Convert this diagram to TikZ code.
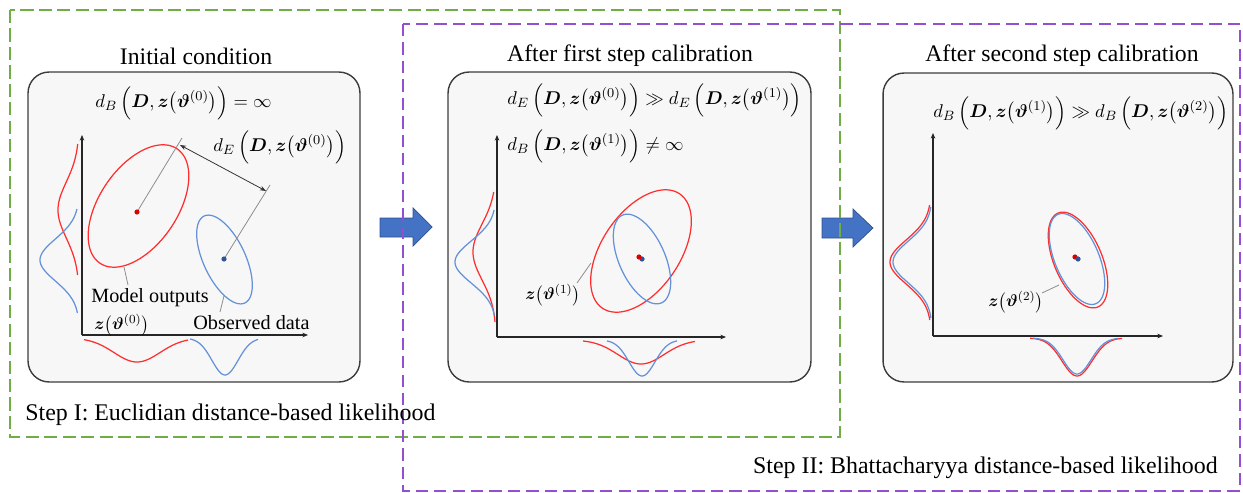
\documentclass[tikz,border=0pt]{standalone}
\usepackage{amsmath}
\usepackage{bm}
\usepackage{fontspec}
\setmainfont{Liberation Serif}
\usetikzlibrary{arrows.meta}
\definecolor{gr}{RGB}{112,173,71}
\definecolor{pu}{RGB}{146,80,208}
\definecolor{rd}{RGB}{255,45,45}
\definecolor{bl}{RGB}{100,145,215}
\definecolor{rdot}{RGB}{220,0,0}
\definecolor{bdot}{RGB}{47,85,151}
\definecolor{arrowblue}{RGB}{68,114,196}
\definecolor{arrowedge}{RGB}{47,82,143}
\definecolor{panelfill}{RGB}{247,247,247}
\definecolor{panelline}{RGB}{60,60,60}
\newcommand{\mydist}[2]{d_{#1}\,\Bigl(\bm{D},\bm{z}\bigl(\bm{\vartheta}^{(#2)}\bigr)\Bigr)}
\newcommand{\myz}[1]{\scalebox{0.88}{$\bm{z}\bigl(\bm{\vartheta}^{(#1)}\bigr)$}}
\newcommand{\myf}[1]{\scalebox{0.96}{$#1$}}
% ellipse: cx, cy, a, b, angle, style
\newcommand{\tiltell}[6]{\draw[#6] plot[domain=0:356,samples=90,smooth cycle]
  ({#1+#3*cos(\x)*cos(#5)+#4*sin(\x)*sin(#5)},{#2-#3*cos(\x)*sin(#5)+#4*sin(\x)*cos(#5)});}
% vertical gaussian: base x, centre y, amp, sigma, from, to, style
\newcommand{\vgauss}[7]{\draw[#7] plot[domain=#5:#6,samples=60,smooth]
  ({#1-#3*exp(-((\x-#2)/#4)*((\x-#2)/#4)/2)},\x);}
% horizontal gaussian: base y, centre x, amp, sigma, from, to, style
\newcommand{\hgauss}[7]{\draw[#7] plot[domain=#5:#6,samples=60,smooth]
  (\x,{#1+#3*exp(-((\x-#2)/#4)*((\x-#2)/#4)/2)});}
\begin{document}
\begin{tikzpicture}[x=0.02cm,y=-0.02cm,
  panel/.style={draw=panelline,line width=0.8pt,fill=panelfill,rounded corners=0.42cm,inner sep=0pt},
  title/.style={font=\fontsize{13.5}{15}\selectfont,inner sep=0pt},
  steplabel/.style={font=\fontsize{13.6}{15}\selectfont,inner sep=0pt},
  lab/.style={font=\fontsize{11.5}{13}\selectfont,inner sep=0pt},
  mth/.style={font=\fontsize{11}{12}\selectfont,inner sep=0pt,anchor=west},
  axis/.style={line width=0.6pt,draw=black!85,-{Stealth[length=3.2pt,width=2.6pt]}},
  ell/.style={line width=0.7pt},
  guide/.style={line width=0.45pt,draw=black!45},
  blockarrow/.style={fill=arrowblue,draw=arrowedge,line width=0.4pt},
  gbox/.style={draw=gr,line width=0.85pt,dash pattern=on 7.5pt off 3pt},
  pbox/.style={draw=pu,line width=0.85pt,dash pattern=on 7pt off 3.5pt}]
\useasboundingbox (0,0) rectangle (1243,493);
% panels
\node[panel,minimum width=6.64cm,minimum height=6.2cm] (p1) at (194,227) {};
\node[panel,minimum width=7.26cm,minimum height=6.2cm] (p2) at (629.5,227) {};
\node[panel,minimum width=7.0cm,minimum height=6.18cm] (p3) at (1058,227.5) {};
% titles
\node[title] (t1) at (196,56) {Initial condition};
\node[title] (t2) at (630,56) {After first step calibration};
\node[title] (t3) at (1062,56) {After second step calibration};
% block arrows
\draw[blockarrow] (380,218) -- (413,218) -- (413,208) -- (432,227) -- (413,246) -- (413,237) -- (380,237) -- cycle;
\draw[blockarrow] (822,218) -- (853,218) -- (853,209) -- (873,228) -- (853,247) -- (853,238) -- (822,238) -- cycle;

% ---------- panel 1 ----------
\coordinate (o1) at (82,335);
\coordinate (y1) at (82,135);
\coordinate (x1) at (308,335);
\draw[axis] (o1) -- (y1);
\draw[axis] (o1) -- (x1);
\vgauss{79}{210}{21}{28}{144}{275}{rd,ell}
\vgauss{79}{260}{39}{21}{209}{313}{bl,ell}
\hgauss{338}{137}{24}{23}{84}{188}{rd,ell}
\hgauss{338}{225}{37}{13}{190}{258}{bl,ell}
\tiltell{138.5}{206}{69}{39}{56}{rd,ell}
\tiltell{224.5}{259.5}{48}{21}{115}{bl,ell}
\coordinate (rc1) at (137,212);
\coordinate (rt1) at (182,138);
\coordinate (bc1) at (224,259);
\coordinate (bt1) at (270,185);
\coordinate (da) at (180,145);
\coordinate (db) at (266,191);
\draw[guide] (rc1) -- (rt1);
\draw[guide] (bc1) -- (bt1);
\draw[line width=0.45pt,draw=black!80,{Stealth[length=3.5pt,width=2.6pt]}-{Stealth[length=3.5pt,width=2.6pt]}] (da) -- (db);
\fill[rdot] (rc1) circle (2.6);
\fill[bdot] (bc1) circle (2.6);
\node[mth] (f1) at (95,103) {\myf{\mydist{B}{0} = \infty}};
\node[mth] (f2) at (213,147) {\myf{\mydist{E}{0}}};
\node[lab,anchor=west] (mo) at (91,298) {Model outputs};
\node[mth] (z0) at (94,325) {\myz{0}};
\node[lab,anchor=west] (od) at (193,323) {Observed data};
\coordinate (mo1) at (124,267);
\coordinate (mo2) at (128,285);
\coordinate (od1) at (224,296);
\coordinate (od2) at (220,312);
\draw[guide] (mo1) -- (mo2);
\draw[guide] (od1) -- (od2);

% ---------- panel 2 ----------
\coordinate (o2) at (497,337);
\coordinate (y2) at (497,135);
\coordinate (x2) at (726,337);
\draw[axis] (o2) -- (y2);
\draw[axis] (o2) -- (x2);
\vgauss{496}{252}{23}{28}{192}{322}{rd,ell}
\vgauss{496}{262}{41}{21}{210}{315}{bl,ell}
\hgauss{340}{641}{24}{23}{583}{695}{rd,ell}
\hgauss{340}{642}{36}{13}{607}{677}{bl,ell}
\tiltell{641}{251}{69}{39}{56}{rd,ell}
\tiltell{642}{259}{48}{23}{114}{bl,ell}
\coordinate (bc2) at (642,259);
\coordinate (rc2) at (639,257);
\fill[bdot] (bc2) circle (2.6);
\fill[rdot] (rc2) circle (2.6);
\node[mth] (f3) at (507,100) {\myf{\mydist{E}{0} \gg \mydist{E}{1}}};
\node[mth] (f4) at (507,146) {\myf{\mydist{B}{1} \neq \infty}};
\node[mth] (z1) at (525,295) {\myz{1}};
\coordinate (z1a) at (577,283);
\coordinate (z1b) at (591,263);
\draw[guide] (z1a) -- (z1b);

% ---------- panel 3 ----------
\coordinate (o3) at (933,336);
\coordinate (y3) at (933,133);
\coordinate (x3) at (1163,336);
\draw[axis] (o3) -- (y3);
\draw[axis] (o3) -- (x3);
\vgauss{931}{262}{41}{22}{205}{320}{rd,ell}
\vgauss{932}{262}{39}{21}{207}{318}{bl,ell}
\hgauss{338}{1077}{38}{15}{1030}{1122}{rd,ell}
\hgauss{338}{1077}{36}{14}{1033}{1118}{bl,ell}
\tiltell{1078}{260}{51}{24}{113}{rd,ell}
\tiltell{1077}{259}{48.5}{22}{113}{bl,ell}
\coordinate (rc3) at (1075,257);
\coordinate (bc3) at (1078,259);
\fill[rdot] (rc3) circle (2.6);
\fill[bdot] (bc3) circle (2.6);
\node[mth] (f5) at (933,113) {\myf{\mydist{B}{1} \gg \mydist{B}{2}}};
\node[mth] (z2) at (988,302) {\myz{2}};
\coordinate (z2a) at (1042,293);
\coordinate (z2b) at (1059,285);
\draw[guide] (z2a) -- (z2b);

% ---------- dashed step boxes ----------
\draw[gbox] (10,10) rectangle (840,437);
\draw[pbox] (403,24) rectangle (1240,491);
\node[steplabel,anchor=west] (s1) at (25,415) {Step I: Euclidian distance-based likelihood};
\node[steplabel,anchor=east] (s2) at (1218,468) {Step II: Bhattacharyya distance-based likelihood};
\end{tikzpicture}
\end{document}
